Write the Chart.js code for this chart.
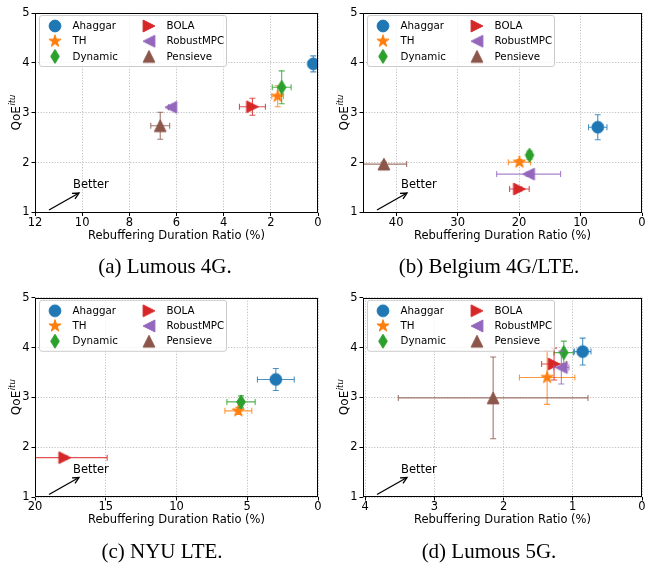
<!DOCTYPE html>
<html><head><meta charset="utf-8">
<script src="https://cdn.jsdelivr.net/npm/chart.js@4.4.1/dist/chart.umd.min.js"></script>
<style>
html,body{margin:0;padding:0;background:#fff}
body{width:649px;height:563px;position:relative;overflow:hidden}
canvas{position:absolute}
.cap{position:absolute;font-family:"Liberation Serif","Times New Roman",serif;font-size:21px;line-height:21px;color:#000;white-space:nowrap;transform:translateX(-50%)}
</style></head><body>
<canvas id="cA" width="325" height="285" style="left:0;top:0"></canvas>
<canvas id="cB" width="324" height="285" style="left:325px;top:0"></canvas>
<canvas id="cC" width="325" height="278" style="left:0;top:285px"></canvas>
<canvas id="cD" width="324" height="278" style="left:325px;top:285px"></canvas>
<div class="cap" style="left:165px;top:256px">(a) Lumous 4G.</div>
<div class="cap" style="left:489px;top:256px">(b) Belgium 4G/LTE.</div>
<div class="cap" style="left:162px;top:541px">(c) NYU LTE.</div>
<div class="cap" style="left:489px;top:541px">(d) Lumous 5G.</div>
<script>
// ---------- data ----------
const categories = ['Ahaggar','TH','Dynamic','BOLA','RobustMPC','Pensieve'];
const colors = ['#1f77b4','#ff7f0e','#2ca02c','#d62728','#9467bd','#8c564b'];
const markers = ['circle','star','thinDiamond','triRight','triLeft','triUp'];

const lumous4gRebuf    = [0.2, 1.71, 1.54, 2.78, 6.24, 6.69];
const lumous4gRebufErr = [0.2, 0.25, 0.40, 0.55, 0.10, 0.40];
const lumous4gQoE      = [3.98, 3.33, 3.51, 3.12, 3.11, 2.74];
const lumous4gQoEErr   = [0.16, 0.21, 0.33, 0.17, 0.04, 0.27];

const belgiumRebuf    = [7.2, 19.95, 18.3, 19.95, 18.45, 42.0];
const belgiumRebufErr = [1.5, 1.8, 0.4, 1.6, 5.2, 3.7];
const belgiumQoE      = [2.71, 2.01, 2.15, 1.47, 1.77, 1.97];
const belgiumQoEErr   = [0.25, 0.05, 0.08, 0.04, 0.04, 0.04];

const nyuRebuf    = [2.98, 5.63, 5.44, 17.9, null, null];
const nyuRebufErr = [1.3, 0.95, 1.0, 3.0, null, null];
const nyuQoE      = [3.36, 2.73, 2.91, 1.79, null, null];
const nyuQoEErr   = [0.22, 0.07, 0.12, 0.03, null, null];

const lumous5gRebuf    = [0.857, 1.37, 1.13, 1.27, 1.165, 2.15];
const lumous5gRebufErr = [0.12, 0.40, 0.14, 0.18, 0.11, 1.37];
const lumous5gQoE      = [3.92, 3.40, 3.90, 3.67, 3.60, 2.99];
const lumous5gQoEErr   = [0.27, 0.54, 0.23, 0.32, 0.33, 0.82];

const lumous4gTicks = [0,2,4,6,8,10,12];
const belgiumTicks  = [0,10,20,30,40];
const nyuTicks      = [0,5,10,15,20];
const lumous5gTicks = [0,1,2,3,4];
const qoeTicks      = [1,2,3,4,5];

// ---------- styling helpers ----------
const FONT = '"DejaVu Sans", sans-serif';
function rgba(hex, a){
  const n = parseInt(hex.slice(1),16);
  return `rgba(${(n>>16)&255},${(n>>8)&255},${n&255},${a})`;
}
function makeMarker(kind, color){
  const c = document.createElement('canvas'); c.width = 20; c.height = 20;
  const g = c.getContext('2d');
  g.fillStyle = color; g.strokeStyle = color; g.lineWidth = 1; g.lineJoin = 'miter';
  g.translate(10,10); g.beginPath();
  const s = 5.9;
  if (kind === 'circle') g.arc(0,0,s,0,Math.PI*2);
  else if (kind === 'star') {
    const R = 6.4;
    for (let k=0;k<10;k++){ const r = (k%2)? R*0.382 : R; const a = -Math.PI/2 + k*Math.PI/5; g.lineTo(r*Math.cos(a), r*Math.sin(a)); }
    g.closePath();
  }
  else if (kind === 'thinDiamond') { g.moveTo(0,-7); g.lineTo(4.3,0); g.lineTo(0,7); g.lineTo(-4.3,0); g.closePath(); }
  else if (kind === 'triRight') { g.moveTo(s,0); g.lineTo(-s,-s); g.lineTo(-s,s); g.closePath(); }
  else if (kind === 'triLeft')  { g.moveTo(-s,0); g.lineTo(s,-s); g.lineTo(s,s); g.closePath(); }
  else if (kind === 'triUp')    { g.moveTo(0,-s); g.lineTo(s,s); g.lineTo(-s,s); g.closePath(); }
  g.fill(); g.stroke();
  return c;
}
const markerImgs = markers.map((m,i)=>makeMarker(m, colors[i]));

// ---------- plugins ----------
const framePlugin = {
  id:'frame',
  afterDatasetsDraw(chart){
    const {ctx, chartArea:a} = chart;
    ctx.save(); ctx.strokeStyle = '#000'; ctx.lineWidth = 1;
    const l = Math.round(a.left)+0.5, t = Math.round(a.top)+0.5, r = Math.round(a.right)-0.5, b = Math.round(a.bottom)-0.5;
    ctx.strokeRect(l, t, r-l, b-t);
    ctx.restore();
  }
};
const extrasPlugin = {
  id:'extras',
  afterDraw(chart){
    const {ctx, chartArea:a} = chart;
    ctx.save();
    // y axis title QoE^itu
    const yc = (a.top + a.bottom)/2;
    ctx.translate(a.left - 15, yc); ctx.rotate(-Math.PI/2);
    ctx.fillStyle = '#000'; ctx.textAlign = 'left'; ctx.textBaseline = 'alphabetic';
    ctx.font = '12px ' + FONT; const w1 = ctx.measureText('QoE').width;
    ctx.font = 'italic 8.5px ' + FONT; const w2 = ctx.measureText('itu').width;
    const st = -(w1 + w2)/2;
    ctx.font = '12px ' + FONT; ctx.fillText('QoE', st, 0);
    ctx.font = 'italic 8.5px ' + FONT; ctx.fillText('itu', st + w1 + 0.5, -5);
    ctx.restore();

    // Better annotation
    ctx.save();
    const x0 = a.left + 14, y0 = a.bottom - 2.5, x1 = a.left + 44, y1 = a.bottom - 19.5;
    ctx.strokeStyle = '#000'; ctx.lineWidth = 1.3;
    ctx.beginPath(); ctx.moveTo(x0,y0); ctx.lineTo(x1,y1); ctx.stroke();
    const ang = Math.atan2(y1-y0, x1-x0), hl = 7, ha = 0.45;
    ctx.beginPath();
    ctx.moveTo(x1 - hl*Math.cos(ang-ha), y1 - hl*Math.sin(ang-ha));
    ctx.lineTo(x1, y1);
    ctx.lineTo(x1 - hl*Math.cos(ang+ha), y1 - hl*Math.sin(ang+ha));
    ctx.stroke();
    ctx.fillStyle = '#000'; ctx.font = '11.5px ' + FONT; ctx.textAlign = 'left'; ctx.textBaseline = 'alphabetic';
    ctx.fillText('Better', a.left + 38, a.bottom - 24.5);
    ctx.restore();

    // legend
    ctx.save();
    const bx = a.left + 4.5, by = a.top + 2.5, bw = 187, bh = 51, rr = 2.5;
    ctx.beginPath();
    ctx.moveTo(bx+rr,by); ctx.lineTo(bx+bw-rr,by); ctx.arcTo(bx+bw,by,bx+bw,by+rr,rr);
    ctx.lineTo(bx+bw,by+bh-rr); ctx.arcTo(bx+bw,by+bh,bx+bw-rr,by+bh,rr);
    ctx.lineTo(bx+rr,by+bh); ctx.arcTo(bx,by+bh,bx,by+bh-rr,rr);
    ctx.lineTo(bx,by+rr); ctx.arcTo(bx,by,bx+rr,by,rr); ctx.closePath();
    ctx.fillStyle = 'rgba(255,255,255,0.8)'; ctx.fill();
    ctx.strokeStyle = '#cccccc'; ctx.lineWidth = 1; ctx.stroke();
    ctx.font = '10.3px ' + FONT; ctx.fillStyle = '#000'; ctx.textBaseline = 'middle'; ctx.textAlign = 'left';
    categories.forEach((name,i)=>{
      const col = Math.floor(i/3), row = i%3;
      const mx = a.left + (col ? 114 : 20), my = a.top + 13 + row*15.2;
      const img = markerImgs[i];
      ctx.drawImage(img, mx - img.width/2, my - img.height/2);
      ctx.fillText(name, a.left + (col ? 131.5 : 37.5), my + 0.5);
    });
    ctx.restore();
  }
};

// ---------- chart builder ----------
function buildChart(id, cfg){
  const canvas = document.getElementById(id);
  const W = canvas.width, H = canvas.height;
  const datasets = [];
  cfg.rebuf.forEach((xv,i)=>{
    const yv = cfg.qoe[i];
    if (xv == null || yv == null) return;
    const ex = cfg.rebufErr[i], ey = cfg.qoeErr[i];
    const ec = rgba(colors[i], 0.8);
    const base = 100 - 3*i;
    datasets.push({
      label: categories[i] + ' xerr', data: [{x:xv-ex, y:yv},{x:xv+ex, y:yv}],
      showLine:true, borderColor: ec, borderWidth:1.1,
      pointStyle:'line', pointRotation:90, pointRadius:3, pointBorderColor: ec, pointBorderWidth:1.1,
      order: base+2, clip:0
    });
    datasets.push({
      label: categories[i] + ' yerr', data: [{x:xv, y:yv-ey},{x:xv, y:yv+ey}],
      showLine:true, borderColor: ec, borderWidth:1.1,
      pointStyle:'line', pointRotation:0, pointRadius:3, pointBorderColor: ec, pointBorderWidth:1.1,
      order: base+1, clip:0
    });
    datasets.push({
      label: categories[i], data: [{x:xv, y:yv}],
      pointStyle: markerImgs[i], pointRadius:6, order: base, clip:0
    });
  });
  const lh = 11.5*1.2;
  const pb = H - (cfg.bottom + 23.5) - lh/2;
  const gridOpts = {color:'#b0b0b0', lineWidth:0.8, tickColor:'#000', tickLength:3.5, tickWidth:1, tickBorderDash:[]};
  const borderOpts = {display:false, dash:[1.2,1.6]};
  return new Chart(canvas, {
    type:'scatter',
    data:{datasets},
    options:{
      responsive:false, animation:false, events:[],
      layout:{padding:{left:0, top:cfg.top, right:W - cfg.right, bottom:0}},
      plugins:{legend:{display:false}, tooltip:{enabled:false}},
      scales:{
        x:{
          type:'linear', reverse:true, min:0, max:cfg.xmax,
          afterBuildTicks: s => { s.ticks = cfg.ticks.map(v=>({value:v})); },
          afterFit: s => { s.height = H - cfg.bottom; },
          ticks:{color:'#000', font:{family:FONT, size:11.5}, padding:0, maxRotation:0, minRotation:0, autoSkip:false},
          grid: gridOpts,
          border: borderOpts,
          title:{display:true, text:'Rebuffering Duration Ratio (%)', color:'#000', font:{family:FONT, size:11.5}, padding:{top:0, bottom:pb}}
        },
        y:{
          type:'linear', min:1, max:5,
          afterBuildTicks: s => { s.ticks = qoeTicks.map(v=>({value:v})); },
          afterFit: s => { s.width = cfg.left; },
          ticks:{color:'#000', font:{family:FONT, size:11.5}, padding:2},
          grid: gridOpts,
          border: borderOpts
        }
      }
    },
    plugins:[framePlugin, extrasPlugin]
  });
}

buildChart('cA', {rebuf:lumous4gRebuf, rebufErr:lumous4gRebufErr, qoe:lumous4gQoE, qoeErr:lumous4gQoEErr, ticks:lumous4gTicks, xmax:12,   left:35, right:319, top:13,   bottom:212.5});
buildChart('cB', {rebuf:belgiumRebuf,  rebufErr:belgiumRebufErr,  qoe:belgiumQoE,  qoeErr:belgiumQoEErr,  ticks:belgiumTicks,  xmax:45.4, left:38, right:322, top:13,   bottom:212.5});
buildChart('cC', {rebuf:nyuRebuf,      rebufErr:nyuRebufErr,      qoe:nyuQoE,      qoeErr:nyuQoEErr,      ticks:nyuTicks,      xmax:20,   left:35, right:319, top:12.8, bottom:212});
buildChart('cD', {rebuf:lumous5gRebuf, rebufErr:lumous5gRebufErr, qoe:lumous5gQoE, qoeErr:lumous5gQoEErr, ticks:lumous5gTicks, xmax:4.03, left:38, right:322, top:12.8, bottom:212});
</script>
</body></html>
